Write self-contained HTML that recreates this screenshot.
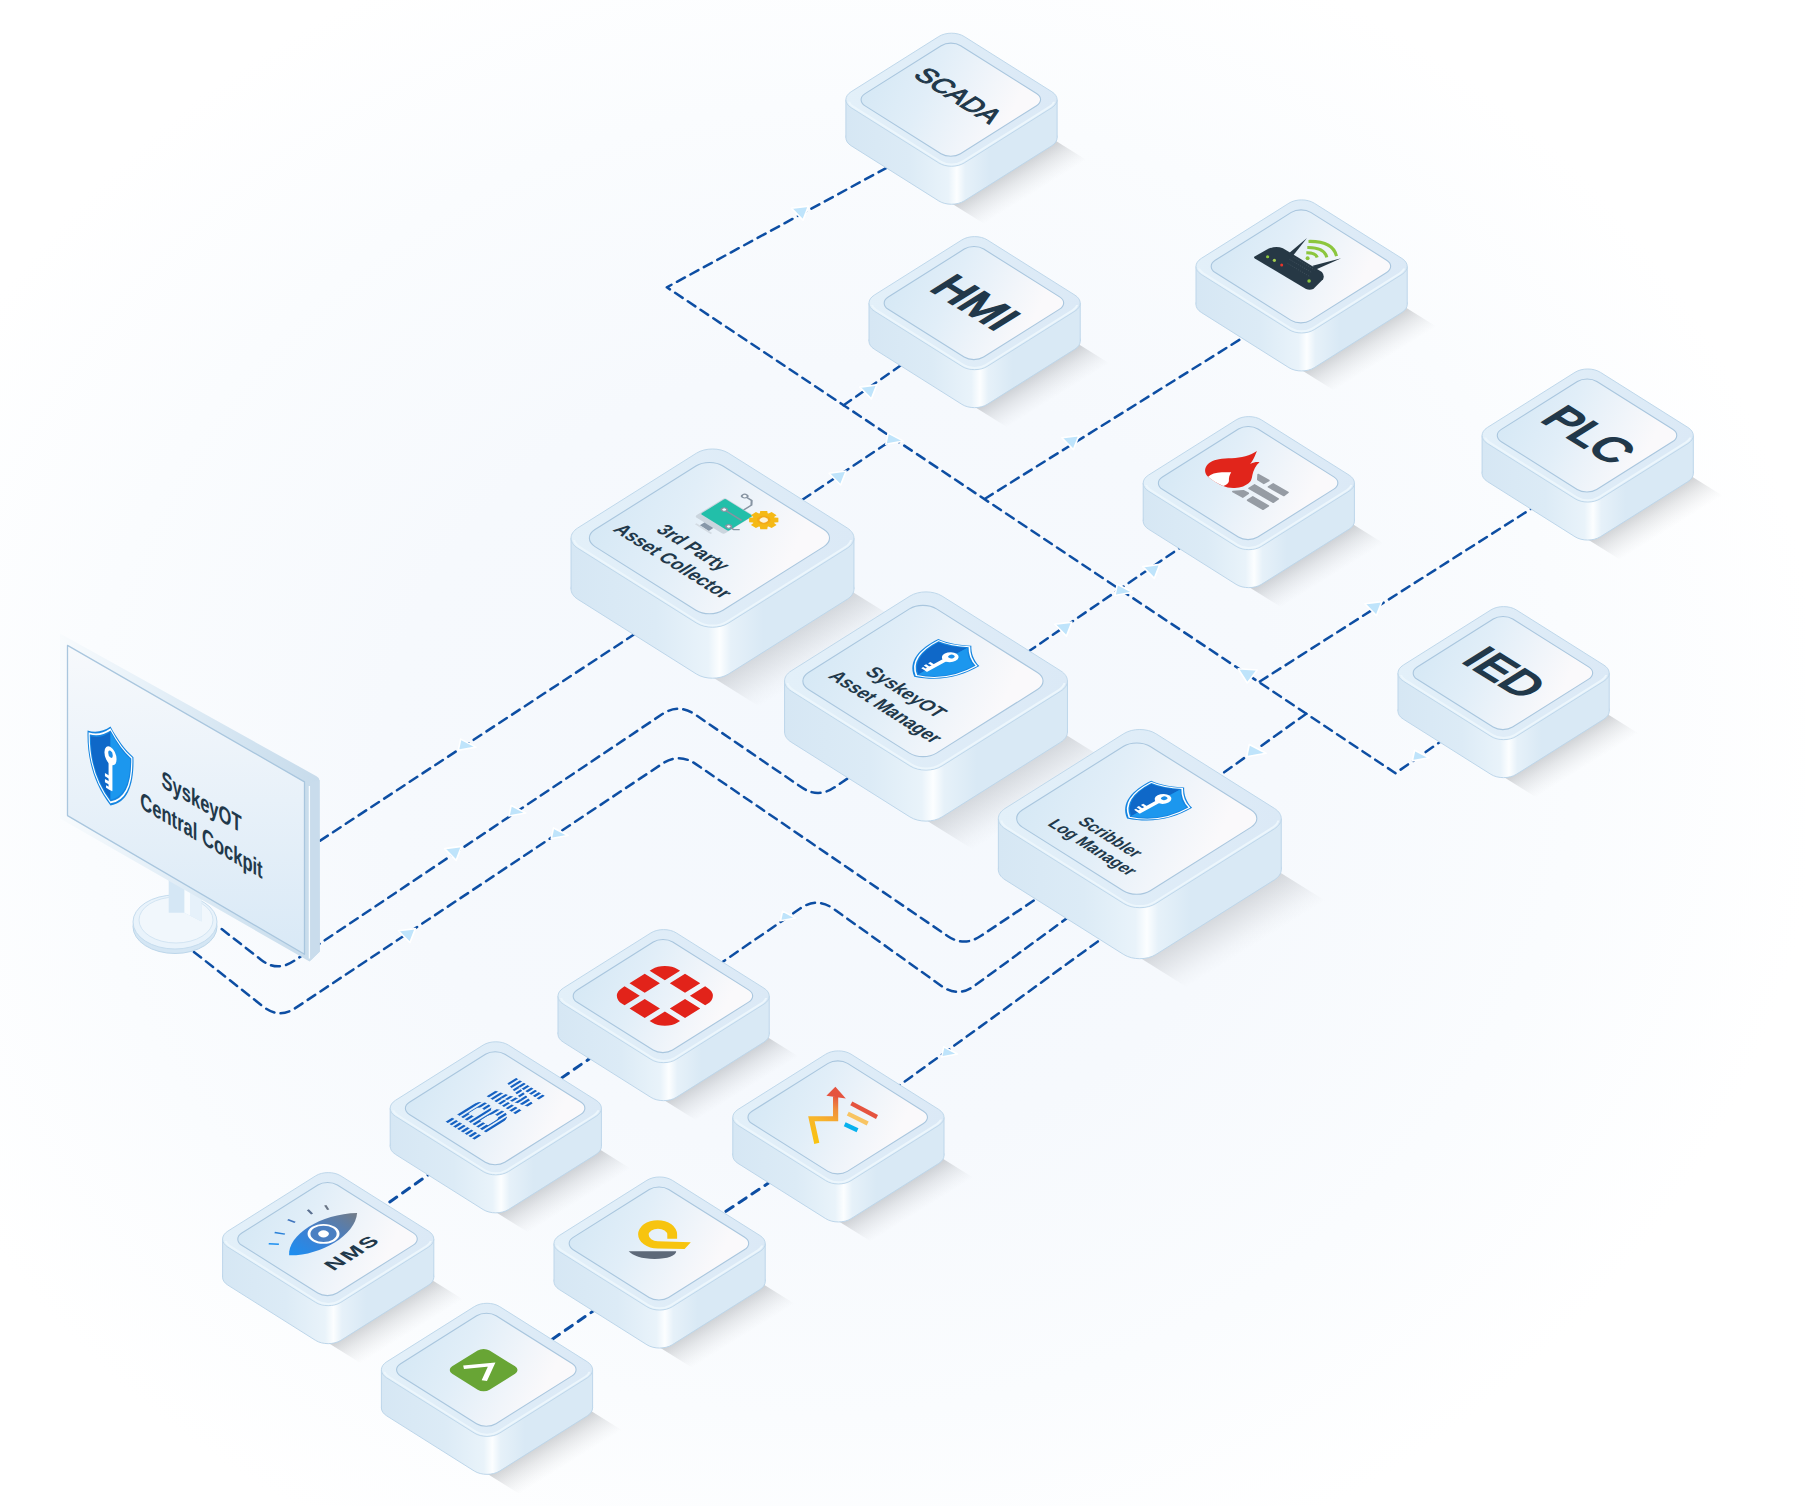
<!DOCTYPE html>
<html lang="en"><head><meta charset="utf-8"><title>SyskeyOT Architecture</title>
<style>html,body{margin:0;padding:0;background:#fff}body{width:1805px;height:1506px;overflow:hidden}svg{display:block}text{font-family:"Liberation Sans",Arial,Helvetica,sans-serif;fill:#21384a}</style></head><body>
<svg width="1805" height="1506" viewBox="0 0 1805 1506">
<defs>
<linearGradient id="bodys" x1="0" y1="0" x2="1" y2="0"><stop offset="0" stop-color="#d6e7f4"/><stop offset="0.30" stop-color="#dcebf6"/><stop offset="0.485" stop-color="#e9f3fa"/><stop offset="0.525" stop-color="#fcfeff"/><stop offset="0.565" stop-color="#e6f1f9"/><stop offset="0.68" stop-color="#d9e9f5"/><stop offset="1" stop-color="#d9e9f5"/></linearGradient>
<linearGradient id="tops" x1="0" y1="0" x2="1" y2="0"><stop offset="0" stop-color="#e3f0f9"/><stop offset="1" stop-color="#dbe9f6"/></linearGradient>
<linearGradient id="ins" x1="0.1" y1="0" x2="0.95" y2="0.25"><stop offset="0" stop-color="#d5e8f5"/><stop offset="0.42" stop-color="#e1eef8"/><stop offset="0.78" stop-color="#f1f5fa"/><stop offset="1" stop-color="#faf9fb"/></linearGradient>
<linearGradient id="shs" x1="0" y1="0" x2="1" y2="0"><stop offset="0" stop-color="#5c6066" stop-opacity="0.26"/><stop offset="0.31" stop-color="#5c6066" stop-opacity="0.26"/><stop offset="0.58" stop-color="#6c7076" stop-opacity="0.14"/><stop offset="0.83" stop-color="#7c8086" stop-opacity="0.05"/><stop offset="1" stop-color="#80848a" stop-opacity="0"/></linearGradient>
<clipPath id="lowers"><rect x="-118.04" y="73.21" width="236.08" height="76.21"/></clipPath>
<linearGradient id="bodyl" x1="0" y1="0" x2="1" y2="0"><stop offset="0" stop-color="#d6e7f4"/><stop offset="0.30" stop-color="#dcebf6"/><stop offset="0.485" stop-color="#e9f3fa"/><stop offset="0.525" stop-color="#fcfeff"/><stop offset="0.565" stop-color="#e6f1f9"/><stop offset="0.68" stop-color="#d9e9f5"/><stop offset="1" stop-color="#d9e9f5"/></linearGradient>
<linearGradient id="topl" x1="0" y1="0" x2="1" y2="0"><stop offset="0" stop-color="#e3f0f9"/><stop offset="1" stop-color="#dbe9f6"/></linearGradient>
<linearGradient id="inl" x1="0.1" y1="0" x2="0.95" y2="0.25"><stop offset="0" stop-color="#d5e8f5"/><stop offset="0.42" stop-color="#e1eef8"/><stop offset="0.78" stop-color="#f1f5fa"/><stop offset="1" stop-color="#faf9fb"/></linearGradient>
<linearGradient id="shl" x1="0" y1="0" x2="1" y2="0"><stop offset="0" stop-color="#5c6066" stop-opacity="0.21"/><stop offset="0.28" stop-color="#5c6066" stop-opacity="0.21"/><stop offset="0.57" stop-color="#6c7076" stop-opacity="0.12"/><stop offset="0.82" stop-color="#7c8086" stop-opacity="0.04"/><stop offset="1" stop-color="#80848a" stop-opacity="0"/></linearGradient>
<clipPath id="lowerl"><rect x="-155.86" y="97.04" width="311.72" height="100.04"/></clipPath>
<radialGradient id="bg" gradientUnits="userSpaceOnUse" cx="0" cy="0" r="1" gradientTransform="matrix(800 505 -590 715 830 760)"><stop offset="0" stop-color="#f4f8fd"/><stop offset="0.45" stop-color="#f6f9fd"/><stop offset="0.75" stop-color="#fafcfe"/><stop offset="1" stop-color="#ffffff"/></radialGradient>
<filter id="blur60" x="-20%" y="-20%" width="140%" height="140%"><feGaussianBlur stdDeviation="60"/></filter>
<linearGradient id="bezel" x1="0" y1="0" x2="1" y2="0"><stop offset="0" stop-color="#f8fbfd"/><stop offset="0.3" stop-color="#e9f2f9"/><stop offset="0.7" stop-color="#d3e4f1"/><stop offset="1" stop-color="#c7dbeb"/></linearGradient>
<linearGradient id="scr" x1="0" y1="0" x2="0" y2="1"><stop offset="0" stop-color="#f7f9fc"/><stop offset="1" stop-color="#d9e9f6"/></linearGradient>
<linearGradient id="shield" x1="0" y1="0" x2="1" y2="0"><stop offset="0" stop-color="#0f6fd0"/><stop offset="0.5" stop-color="#0f6fd0"/><stop offset="0.5" stop-color="#1c96ee"/><stop offset="1" stop-color="#1c96ee"/></linearGradient>
<linearGradient id="eyeg" gradientUnits="userSpaceOnUse" x1="-40" y1="0" x2="40" y2="0"><stop offset="0" stop-color="#1b8ff2"/><stop offset="0.45" stop-color="#3f7fd0"/><stop offset="1" stop-color="#737b86"/></linearGradient>
<linearGradient id="meg" gradientUnits="userSpaceOnUse" x1="-24" y1="26" x2="-3" y2="-22"><stop offset="0" stop-color="#f9c40f"/><stop offset="0.45" stop-color="#f8b52a"/><stop offset="0.75" stop-color="#f08f3c"/><stop offset="1" stop-color="#e5533f"/></linearGradient>
</defs>
<rect width="1805" height="1506" fill="#ffffff"/>
<rect width="1805" height="1506" fill="url(#bg)"/>
<g fill="none" stroke="#0d4ea3" stroke-width="2.5" stroke-linecap="round" stroke-linejoin="round" stroke-dasharray="9.1 6.2">
<path d="M900 160.5 L666.8 287.3 L1395.5 773.2 L1450 735"/>
<path d="M843.6 405.2 L915 355.5"/>
<path d="M790 508 L891.5 440.2"/>
<path d="M985 498.7 L1260 327"/>
<path d="M1015 660.7 L1190 541"/>
<path d="M1259.8 681.5 L1545 500"/>
<path d="M1306.3 713.7 L1205 786"/>
<path d="M320.2 840.6 L650 624"/>
<path d="M221.7 929.1 L261.31 959.92 Q277.1 972.2 293.72 961.07 L661.98 714.33 Q678.6 703.2 695.1 714.5 L801.5 787.3 Q818 798.6 834.53 787.34 L860 770"/>
<path d="M193.9 951.9 L263.29 1006.62 Q279 1019 295.65 1007.91 L662.35 763.69 Q679 752.6 695.52 763.88 L947.48 935.92 Q964 947.2 980.63 936.08 L1050 889.7"/>
<path d="M705 974 L800.52 908.33 Q817 897 833.27 908.63 L941.73 986.17 Q958 997.8 974.15 986 L1085 905"/>
<path d="M880 1099.5 L1115 929"/>
</g>
<g fill="none" stroke="#0d4ea3" stroke-width="3" stroke-linecap="round" stroke-dasharray="8.6 7">
<path d="M548.5 1087 L610 1044.5"/>
<path d="M377 1211 L445 1163"/>
<path d="M713 1220 L785 1172"/>
<path d="M539.5 1348 L610 1299.5"/>
</g>
<g fill="#bfe4fb" stroke="#ffffff" stroke-width="1.6" stroke-linejoin="round">
<polygon points="791.5,208.3 808.5,206.1 803,220.1"/>
<polygon points="859.8,387.1 876.8,384.9 871.3,398.9"/>
<polygon points="829.1,473.2 846.1,471 840.6,485"/>
<polygon points="888.2,433.1 903.5,441.1 885.8,444.3"/>
<polygon points="1061.9,437.8 1078.9,435.6 1073.4,449.6"/>
<polygon points="1054.9,624.3 1071.9,622.1 1066.4,636.1"/>
<polygon points="1142.8,566.6 1159.8,564.4 1154.3,578.4"/>
<polygon points="1117.3,584.3 1132.6,592.3 1114.9,595.5"/>
<polygon points="1364.9,603.8 1381.9,601.6 1376.4,615.6"/>
<polygon points="1238.1,668.8 1257.2,670 1247.3,683"/>
<polygon points="1249.27,744.46 1266.1,753.26 1246.63,756.78"/>
<polygon points="1414.62,750.22 1429.15,757.82 1412.34,760.86"/>
<polygon points="460.7,739.1 476,747.1 458.3,750.3"/>
<polygon points="511.21,805.42 525.75,813.02 508.93,816.06"/>
<polygon points="444.6,848.6 461.6,846.4 456.1,860.4"/>
<polygon points="553.51,827.92 568.05,835.52 551.24,838.56"/>
<polygon points="398.4,930.8 415.4,928.6 409.9,942.6"/>
<polygon points="782.55,911.16 795.55,917.96 780.5,920.68"/>
<polygon points="943.73,1046.84 957.5,1054.04 941.57,1056.92"/>
</g>
<g><ellipse cx="175" cy="926.5" rx="42" ry="27" fill="#d4e6f4" stroke="#bcd6ea"/><ellipse cx="175" cy="922" rx="42" ry="27" fill="#e9f3fb" stroke="#c5dcee"/><ellipse cx="176" cy="920" rx="37" ry="23" fill="#f1f7fc" stroke="#d3e5f3"/><polygon points="168.7,870 201.5,890 201.5,921.5 184.5,912.7 168.7,912.7" fill="#d5e7f5"/><polygon points="184.5,880 201.5,890 201.5,921.5 184.5,912.7" fill="#e6f1fa"/><polygon points="184.5,880 190,883 190,915.5 184.5,912.7" fill="#f7fbfe"/><path d="M60 633.5L316.5 776.2Q319.4 777.6 319.5 780.5L319.8 951.4L309.6 961.6L60 818.5Z" fill="url(#bezel)"/><polygon points="310.4,782.5 319.6,780 319.8,951.4 310.4,960.8" fill="#c9dcec"/><path d="M309.4 786V958.5" stroke="#f8fcff" stroke-width="1.3"/><polygon points="67.5,645.4 304.5,781.9 304.5,954.3 67.5,815.6" fill="url(#scr)" stroke="#a9c6de" stroke-width="1.3" stroke-linejoin="round"/></g>
<text transform="matrix(0.69 0.4 0 1 201.5 810)" font-size="24" font-weight="bold" text-anchor="middle" stroke="#dfeaf4" stroke-width="0.5" paint-order="stroke">SyskeyOT</text>
<text transform="matrix(0.69 0.4 0 1 201.5 843.5)" font-size="24" font-weight="bold" text-anchor="middle" stroke="#dfeaf4" stroke-width="0.5" paint-order="stroke">Central Cockpit</text>
<g transform="matrix(0.74 0.43 0 1.08 110.5 765.5)"><path d="M0 -36C-9 -28 -20 -22 -31 -20C-32 4 -24 25 0 37C24 25 32 4 31 -20C20 -22 9 -28 0 -36Z" fill="#1585e0"/><path d="M0 -31C-8 -24 -17 -18.5 -26.5 -16.5C-27 3 -20 21 0 31.5Z" fill="#0f68c8"/><path d="M0 -31C8 -24 17 -18.5 26.5 -16.5C27 3 20 21 0 31.5Z" fill="#1c97ee"/><path d="M0 -33.5C-8.5 -26 -18.5 -20.3 -28.8 -18.3C-29.4 3.5 -22 23 0 34.2C22 23 29.4 3.5 28.8 -18.3C18.5 -20.3 8.5 -26 0 -33.5Z" fill="none" stroke="#ffffff" stroke-width="1.6"/><g fill="#ffffff"><circle cx="0" cy="-9" r="8.2"/><rect x="-2.6" y="-3" width="5.2" height="26" rx="1"/><rect x="-7.5" y="10" width="6" height="3"/><rect x="-7.5" y="15.5" width="6" height="3"/><rect x="-6" y="20.6" width="4.5" height="2.4"/></g><circle cx="0" cy="-10.5" r="3.1" fill="#1c8de8"/></g>
<g><rect x="118.6" y="8.85" width="49" height="120.4" fill="url(#shs)" transform="matrix(0.85 0.53 -0.85 0.53 951.5 66.51)"/><path d="M964.19 74.51L1051.85 129.73C1058.86 134.15 1058.86 141.31 1051.85 145.72L964.19 200.95C957.18 205.36 945.82 205.36 938.81 200.95L851.15 145.72C844.14 141.31 844.14 134.15 851.15 129.73L938.81 74.51C945.82 70.09 957.18 70.09 964.19 74.51Z" fill="url(#bodys)" stroke="#bdd6ea" stroke-width="1"/><rect x="845.9" y="99.73" width="211.2" height="38" fill="url(#bodys)"/><path d="M845.9 99.73V137.73M1057.1 99.73V137.73" stroke="#bdd6ea" stroke-width="1" fill="none"/><path d="M964.19 36.51L1051.85 91.73C1058.86 96.15 1058.86 103.31 1051.85 107.72L964.19 162.95C957.18 167.36 945.82 167.36 938.81 162.95L851.15 107.72C844.14 103.31 844.14 96.15 851.15 91.73L938.81 36.51C945.82 32.09 957.18 32.09 964.19 36.51Z" fill="url(#tops)" stroke="#bfd8eb" stroke-width="1"/><path d="M11 9.27L98.32 64.28C104.39 68.11 104.39 74.32 98.32 78.14L11 133.15C4.92 136.98 -4.92 136.98 -11 133.15L-98.32 78.14C-104.39 74.32 -104.39 68.11 -98.32 64.28L-11 9.27C-4.92 5.45 4.92 5.45 11 9.27Z" fill="none" stroke="#ecf6fc" stroke-width="2" clip-path="url(#lowers)" transform="translate(951.5 28.51)"/><path d="M960.64 45.68L1036.53 93.49C1041.91 96.88 1041.91 102.37 1036.53 105.75L960.47 153.67C955.09 157.06 946.38 157.06 941.01 153.67L865.11 105.86C859.74 102.47 859.74 96.98 865.11 93.6L941.18 45.68C946.55 42.29 955.26 42.29 960.64 45.68Z" fill="url(#ins)" stroke="#a9c6de" stroke-width="1.1"/></g>
<g transform="translate(951.5 99.73)"><text transform="matrix(0.84 0.53 -0.85 0.53 -0.85 0.53)" font-size="26.5" font-weight="normal" font-style="normal" text-anchor="middle" stroke="#21384a" stroke-width="1.1" stroke-linejoin="miter">SCADA</text></g>
<g><rect x="118.6" y="8.85" width="49" height="120.4" fill="url(#shs)" transform="matrix(0.85 0.53 -0.85 0.53 1301.6 233.21)"/><path d="M1314.29 241.21L1401.95 296.43C1408.96 300.85 1408.96 308.01 1401.95 312.42L1314.29 367.65C1307.28 372.06 1295.92 372.06 1288.91 367.65L1201.25 312.42C1194.24 308.01 1194.24 300.85 1201.25 296.43L1288.91 241.21C1295.92 236.79 1307.28 236.79 1314.29 241.21Z" fill="url(#bodys)" stroke="#bdd6ea" stroke-width="1"/><rect x="1196" y="266.43" width="211.2" height="38" fill="url(#bodys)"/><path d="M1196 266.43V304.43M1407.2 266.43V304.43" stroke="#bdd6ea" stroke-width="1" fill="none"/><path d="M1314.29 203.21L1401.95 258.43C1408.96 262.85 1408.96 270.01 1401.95 274.42L1314.29 329.65C1307.28 334.06 1295.92 334.06 1288.91 329.65L1201.25 274.42C1194.24 270.01 1194.24 262.85 1201.25 258.43L1288.91 203.21C1295.92 198.79 1307.28 198.79 1314.29 203.21Z" fill="url(#tops)" stroke="#bfd8eb" stroke-width="1"/><path d="M11 9.27L98.32 64.28C104.39 68.11 104.39 74.32 98.32 78.14L11 133.15C4.92 136.98 -4.92 136.98 -11 133.15L-98.32 78.14C-104.39 74.32 -104.39 68.11 -98.32 64.28L-11 9.27C-4.92 5.45 4.92 5.45 11 9.27Z" fill="none" stroke="#ecf6fc" stroke-width="2" clip-path="url(#lowers)" transform="translate(1301.6 195.21)"/><path d="M1310.74 212.38L1386.63 260.19C1392.01 263.58 1392.01 269.07 1386.63 272.45L1310.57 320.37C1305.19 323.76 1296.48 323.76 1291.11 320.37L1215.21 272.56C1209.84 269.17 1209.84 263.68 1215.21 260.3L1291.28 212.38C1296.65 208.99 1305.36 208.99 1310.74 212.38Z" fill="url(#ins)" stroke="#a9c6de" stroke-width="1.1"/></g>
<g transform="translate(1301.6 266.43)"><path d="M-47.4 -9.7Q-47.9 -8.6 -46.8 -7.9L4.4 22.6Q8 24.2 11.7 22.6L21.5 12.8Q23.2 9 20.3 5.5L-18.7 -18.3Q-26 -20.6 -33.3 -17.7Z" fill="#263845"/><polygon points="-14.2,-12 -9.8,-9.2 5.4,-28.4" fill="#263845"/><polygon points="11,-0.8 13.8,3.2 39.6,-8.2" fill="#263845"/><g fill="none" stroke="#8cc63e" stroke-width="3.1"><path d="M6.9 -25Q31.2 -25.5 34.9 -10.3"/><path d="M5.7 -18.9Q22.7 -19.2 25.2 -9.1"/><path d="M4.7 -13.6Q14.2 -13.8 15.6 -8.9"/></g><circle cx="6" cy="-8.3" r="2" fill="#8cc63e"/><circle cx="-34" cy="-9.7" r="1.6" fill="#8cc63e"/><circle cx="-27.2" cy="-6.1" r="1.6" fill="#a5cf4c"/><circle cx="-19.9" cy="-1.4" r="1.5" fill="#e8352b"/><circle cx="7.5" cy="14.6" r="1.8" fill="#8cc63e"/><g stroke="#4a5a66" stroke-width="0.7" stroke-dasharray="1 1.4"><path d="M-14 -3L8 10M-12 -7L10 6M-8 -9L13 3.5"/></g></g>
<g><rect x="118.6" y="8.85" width="49" height="120.4" fill="url(#shs)" transform="matrix(0.85 0.53 -0.85 0.53 974.6 269.91)"/><path d="M987.29 277.91L1074.95 333.13C1081.96 337.55 1081.96 344.71 1074.95 349.12L987.29 404.35C980.28 408.76 968.92 408.76 961.91 404.35L874.25 349.12C867.24 344.71 867.24 337.55 874.25 333.13L961.91 277.91C968.92 273.49 980.28 273.49 987.29 277.91Z" fill="url(#bodys)" stroke="#bdd6ea" stroke-width="1"/><rect x="869" y="303.13" width="211.2" height="38" fill="url(#bodys)"/><path d="M869 303.13V341.13M1080.2 303.13V341.13" stroke="#bdd6ea" stroke-width="1" fill="none"/><path d="M987.29 239.91L1074.95 295.13C1081.96 299.55 1081.96 306.71 1074.95 311.12L987.29 366.35C980.28 370.76 968.92 370.76 961.91 366.35L874.25 311.12C867.24 306.71 867.24 299.55 874.25 295.13L961.91 239.91C968.92 235.49 980.28 235.49 987.29 239.91Z" fill="url(#tops)" stroke="#bfd8eb" stroke-width="1"/><path d="M11 9.27L98.32 64.28C104.39 68.11 104.39 74.32 98.32 78.14L11 133.15C4.92 136.98 -4.92 136.98 -11 133.15L-98.32 78.14C-104.39 74.32 -104.39 68.11 -98.32 64.28L-11 9.27C-4.92 5.45 4.92 5.45 11 9.27Z" fill="none" stroke="#ecf6fc" stroke-width="2" clip-path="url(#lowers)" transform="translate(974.6 231.91)"/><path d="M983.74 249.08L1059.63 296.89C1065.01 300.28 1065.01 305.77 1059.63 309.15L983.57 357.07C978.19 360.46 969.48 360.46 964.11 357.07L888.21 309.26C882.84 305.87 882.84 300.38 888.21 297L964.28 249.08C969.65 245.69 978.36 245.69 983.74 249.08Z" fill="url(#ins)" stroke="#a9c6de" stroke-width="1.1"/></g>
<g transform="translate(974.6 303.13)"><text transform="matrix(0.85 0.53 -0.85 0.53 -11.85 7.46)" font-size="44" font-weight="normal" font-style="normal" text-anchor="middle" stroke="#21384a" stroke-width="2.4" stroke-linejoin="miter">HMI</text></g>
<g><rect x="118.6" y="8.85" width="49" height="120.4" fill="url(#shs)" transform="matrix(0.85 0.53 -0.85 0.53 1587.7 402.31)"/><path d="M1600.39 410.31L1688.05 465.53C1695.06 469.95 1695.06 477.11 1688.05 481.52L1600.39 536.75C1593.38 541.16 1582.02 541.16 1575.01 536.75L1487.35 481.52C1480.34 477.11 1480.34 469.95 1487.35 465.53L1575.01 410.31C1582.02 405.89 1593.38 405.89 1600.39 410.31Z" fill="url(#bodys)" stroke="#bdd6ea" stroke-width="1"/><rect x="1482.1" y="435.53" width="211.2" height="38" fill="url(#bodys)"/><path d="M1482.1 435.53V473.53M1693.3 435.53V473.53" stroke="#bdd6ea" stroke-width="1" fill="none"/><path d="M1600.39 372.31L1688.05 427.53C1695.06 431.95 1695.06 439.11 1688.05 443.52L1600.39 498.75C1593.38 503.16 1582.02 503.16 1575.01 498.75L1487.35 443.52C1480.34 439.11 1480.34 431.95 1487.35 427.53L1575.01 372.31C1582.02 367.89 1593.38 367.89 1600.39 372.31Z" fill="url(#tops)" stroke="#bfd8eb" stroke-width="1"/><path d="M11 9.27L98.32 64.28C104.39 68.11 104.39 74.32 98.32 78.14L11 133.15C4.92 136.98 -4.92 136.98 -11 133.15L-98.32 78.14C-104.39 74.32 -104.39 68.11 -98.32 64.28L-11 9.27C-4.92 5.45 4.92 5.45 11 9.27Z" fill="none" stroke="#ecf6fc" stroke-width="2" clip-path="url(#lowers)" transform="translate(1587.7 364.31)"/><path d="M1596.84 381.48L1672.73 429.29C1678.11 432.68 1678.11 438.17 1672.73 441.55L1596.67 489.47C1591.29 492.86 1582.58 492.86 1577.21 489.47L1501.31 441.66C1495.94 438.27 1495.94 432.78 1501.31 429.4L1577.38 381.48C1582.75 378.09 1591.46 378.09 1596.84 381.48Z" fill="url(#ins)" stroke="#a9c6de" stroke-width="1.1"/></g>
<g transform="translate(1587.7 435.53)"><text transform="matrix(0.85 0.53 -0.85 0.53 -11.85 7.46)" font-size="44" font-weight="normal" font-style="normal" text-anchor="middle" stroke="#21384a" stroke-width="2.4" stroke-linejoin="miter">PLC</text></g>
<g><rect x="118.6" y="8.85" width="49" height="120.4" fill="url(#shs)" transform="matrix(0.85 0.53 -0.85 0.53 1248.8 449.91)"/><path d="M1261.49 457.91L1349.15 513.13C1356.16 517.55 1356.16 524.71 1349.15 529.12L1261.49 584.35C1254.48 588.76 1243.12 588.76 1236.11 584.35L1148.45 529.12C1141.44 524.71 1141.44 517.55 1148.45 513.13L1236.11 457.91C1243.12 453.49 1254.48 453.49 1261.49 457.91Z" fill="url(#bodys)" stroke="#bdd6ea" stroke-width="1"/><rect x="1143.2" y="483.13" width="211.2" height="38" fill="url(#bodys)"/><path d="M1143.2 483.13V521.13M1354.4 483.13V521.13" stroke="#bdd6ea" stroke-width="1" fill="none"/><path d="M1261.49 419.91L1349.15 475.13C1356.16 479.55 1356.16 486.71 1349.15 491.12L1261.49 546.35C1254.48 550.76 1243.12 550.76 1236.11 546.35L1148.45 491.12C1141.44 486.71 1141.44 479.55 1148.45 475.13L1236.11 419.91C1243.12 415.49 1254.48 415.49 1261.49 419.91Z" fill="url(#tops)" stroke="#bfd8eb" stroke-width="1"/><path d="M11 9.27L98.32 64.28C104.39 68.11 104.39 74.32 98.32 78.14L11 133.15C4.92 136.98 -4.92 136.98 -11 133.15L-98.32 78.14C-104.39 74.32 -104.39 68.11 -98.32 64.28L-11 9.27C-4.92 5.45 4.92 5.45 11 9.27Z" fill="none" stroke="#ecf6fc" stroke-width="2" clip-path="url(#lowers)" transform="translate(1248.8 411.91)"/><path d="M1257.94 429.08L1333.83 476.89C1339.21 480.28 1339.21 485.77 1333.83 489.15L1257.77 537.07C1252.39 540.46 1243.68 540.46 1238.31 537.07L1162.41 489.26C1157.04 485.87 1157.04 480.38 1162.41 477L1238.48 429.08C1243.85 425.69 1252.56 425.69 1257.94 429.08Z" fill="url(#ins)" stroke="#a9c6de" stroke-width="1.1"/></g>
<g transform="translate(1248.8 483.13)"><path d="M8.1 -32.1C5 -24 3 -21 1.4 -19.2C5 -21 8 -21.5 10.7 -21C7 -18 4.5 -13 3.6 -8.2C3 -4 2 -2 1 -1.1C-3 3 -8 4.5 -14 4.8C-19 5 -22.5 4.2 -25.6 2.9C-32 0 -38 -4 -40.7 -6.4C-43.5 -9 -44.5 -13 -43 -16C-41 -20.5 -36 -23 -30 -24C-22 -25 -12 -24.5 -3.5 -26.8C1 -28 5 -30 8.1 -32.1Z" fill="#e1251b"/><path d="M-40.7 -6.4C-38 -9 -33 -10.5 -27 -10.8C-23 -11 -20 -11 -17.6 -10.8C-19.5 -8 -20 -5 -19.9 -2C-20.5 0.5 -23 2 -25.6 2.9C-32 0 -37.5 -3.5 -40.7 -6.4Z" fill="#ffffff"/><g fill="#969ca4" stroke="#969ca4" stroke-width="1.6" stroke-linejoin="round"><polygon points="9.3,-8.7 20.1,-2.6 15,0.2 9,-3.6"/><polygon points="24.4,0.8 39.2,9.3 35,12.4 19.6,3.7"/><polygon points="5.8,1.7 29.4,15.8 24.4,19.1 0.2,5.3"/><polygon points="-16,8.4 -5.4,7.6 -0.5,10.2 -6,14"/><polygon points="4,13.7 19.6,22.8 14.2,26.1 -1.2,17.1"/></g></g>
<g><rect x="159.3" y="10.01" width="69" height="162.78" fill="url(#shl)" transform="matrix(0.85 0.53 -0.85 0.53 712.5 494.07)"/><path d="M728.58 504.19L847.28 578.98C856.16 584.57 856.16 593.64 847.28 599.23L728.58 674.02C719.7 679.61 705.3 679.61 696.42 674.02L577.72 599.23C568.84 593.64 568.84 584.57 577.72 578.98L696.42 504.19C705.3 498.6 719.7 498.6 728.58 504.19Z" fill="url(#bodyl)" stroke="#bdd6ea" stroke-width="1"/><rect x="571.06" y="538.11" width="282.88" height="51" fill="url(#bodyl)"/><path d="M571.06 538.11V589.11M853.94 538.11V589.11" stroke="#bdd6ea" stroke-width="1" fill="none"/><path d="M728.58 453.19L847.28 527.98C856.16 533.57 856.16 542.64 847.28 548.23L728.58 623.02C719.7 628.61 705.3 628.61 696.42 623.02L577.72 548.23C568.84 542.64 568.84 533.57 577.72 527.98L696.42 453.19C705.3 447.6 719.7 447.6 728.58 453.19Z" fill="url(#topl)" stroke="#bfd8eb" stroke-width="1"/><path d="M14.38 11.41L132.75 85.98C140.7 90.98 140.7 99.1 132.75 104.1L14.38 178.67C6.44 183.68 -6.44 183.68 -14.38 178.67L-132.75 104.1C-140.7 99.1 -140.7 90.98 -132.75 85.98L-14.38 11.41C-6.44 6.4 6.44 6.4 14.38 11.41Z" fill="none" stroke="#ecf6fc" stroke-width="2" clip-path="url(#lowerl)" transform="translate(712.5 443.07)"/><path d="M722.99 465.99L823.93 529.58C831.41 534.29 831.41 541.92 823.93 546.63L722.99 610.23C715.51 614.94 703.39 614.94 695.92 610.23L594.98 546.63C587.5 541.92 587.5 534.29 594.98 529.58L695.92 465.99C703.39 461.28 715.51 461.28 722.99 465.99Z" fill="url(#inl)" stroke="#a9c6de" stroke-width="1.1"/></g>
<g transform="translate(712.5 538.11)"><g transform="matrix(0.85 0.53 -0.85 0.53 0 0)"><rect x="-31" y="-45.5" width="34" height="35.5" rx="2.5" fill="#cbd5de"/><rect x="-29.8" y="-44.6" width="32.4" height="28.7" rx="1.5" fill="#22bfa9"/><rect x="-19.5" y="-10" width="10.5" height="5.4" fill="#8797a8"/><rect x="-23.5" y="-4.6" width="18.5" height="1.8" fill="#d3dbe3"/><g fill="none" stroke="#8794a2" stroke-width="1.7" stroke-linejoin="round"><path d="M-20 -33.8H0.5"/><path d="M-20.7 -58.6H-12.5L-8.2 -54V-45"/><path d="M-1 -20.5H4.5L8 -24"/></g><g fill="#f4f8fb" stroke="#8794a2" stroke-width="1.5"><circle cx="-20" cy="-33.8" r="2.3"/><circle cx="-20.7" cy="-58.6" r="2.4"/><circle cx="-1.5" cy="-20.5" r="2.3"/></g><g transform="translate(13.1 -47.2)"><polygon points="8.94,-3.22 12.15,-2.92 12.15,2.92 8.94,3.22 8.6,4.04 10.66,6.53 6.53,10.66 4.04,8.6 3.22,8.94 2.92,12.15 -2.92,12.15 -3.22,8.94 -4.04,8.6 -6.53,10.66 -10.66,6.53 -8.6,4.04 -8.94,3.22 -12.15,2.92 -12.15,-2.92 -8.94,-3.22 -8.6,-4.04 -10.66,-6.53 -6.53,-10.66 -4.04,-8.6 -3.22,-8.94 -2.92,-12.15 2.92,-12.15 3.22,-8.94 4.04,-8.6 6.53,-10.66 10.66,-6.53 8.6,-4.04" fill="#f5b916"/><circle r="5.62" fill="#f19f1c" opacity="0.55"/><circle r="3.38" fill="#fdf3d8"/></g></g><text transform="matrix(0.75 0.47 -0.85 0.53 -24.88 13.11)" font-size="20" font-weight="bold" font-style="normal" text-anchor="middle" >3rd Party</text><text transform="matrix(0.75 0.47 -0.85 0.53 -45.44 26.6)" font-size="20" font-weight="bold" font-style="normal" text-anchor="middle" >Asset Collector</text></g>
<g><rect x="159.3" y="10.01" width="69" height="162.78" fill="url(#shl)" transform="matrix(0.85 0.53 -0.85 0.53 926 636.97)"/><path d="M942.08 647.09L1060.78 721.88C1069.66 727.47 1069.66 736.54 1060.78 742.13L942.08 816.92C933.2 822.51 918.8 822.51 909.92 816.92L791.22 742.13C782.34 736.54 782.34 727.47 791.22 721.88L909.92 647.09C918.8 641.5 933.2 641.5 942.08 647.09Z" fill="url(#bodyl)" stroke="#bdd6ea" stroke-width="1"/><rect x="784.56" y="681.01" width="282.88" height="51" fill="url(#bodyl)"/><path d="M784.56 681.01V732.01M1067.44 681.01V732.01" stroke="#bdd6ea" stroke-width="1" fill="none"/><path d="M942.08 596.09L1060.78 670.88C1069.66 676.47 1069.66 685.54 1060.78 691.13L942.08 765.92C933.2 771.51 918.8 771.51 909.92 765.92L791.22 691.13C782.34 685.54 782.34 676.47 791.22 670.88L909.92 596.09C918.8 590.5 933.2 590.5 942.08 596.09Z" fill="url(#topl)" stroke="#bfd8eb" stroke-width="1"/><path d="M14.38 11.41L132.75 85.98C140.7 90.98 140.7 99.1 132.75 104.1L14.38 178.67C6.44 183.68 -6.44 183.68 -14.38 178.67L-132.75 104.1C-140.7 99.1 -140.7 90.98 -132.75 85.98L-14.38 11.41C-6.44 6.4 6.44 6.4 14.38 11.41Z" fill="none" stroke="#ecf6fc" stroke-width="2" clip-path="url(#lowerl)" transform="translate(926 585.97)"/><path d="M936.49 608.89L1037.43 672.48C1044.91 677.19 1044.91 684.82 1037.43 689.53L936.49 753.13C929.01 757.84 916.89 757.84 909.42 753.13L808.48 689.53C801 684.82 801 677.19 808.48 672.48L909.42 608.89C916.89 604.18 929.01 604.18 936.49 608.89Z" fill="url(#inl)" stroke="#a9c6de" stroke-width="1.1"/></g>
<g transform="translate(926 681.01)"><g transform="matrix(0.847 0.561 -0.85 0.461 17.2 -20)"><g transform="scale(0.78 0.92)"><path d="M0 -36C-9 -28 -20 -22 -31 -20C-32 4 -24 25 0 37C24 25 32 4 31 -20C20 -22 9 -28 0 -36Z" fill="#1585e0"/><path d="M0 -31C-8 -24 -17 -18.5 -26.5 -16.5C-27 3 -20 21 0 31.5Z" fill="#0f68c8"/><path d="M0 -31C8 -24 17 -18.5 26.5 -16.5C27 3 20 21 0 31.5Z" fill="#1c97ee"/><path d="M0 -33.5C-8.5 -26 -18.5 -20.3 -28.8 -18.3C-29.4 3.5 -22 23 0 34.2C22 23 29.4 3.5 28.8 -18.3C18.5 -20.3 8.5 -26 0 -33.5Z" fill="none" stroke="#ffffff" stroke-width="1.6"/><g fill="#ffffff"><circle cx="0" cy="-9" r="8.2"/><rect x="-2.6" y="-3" width="5.2" height="26" rx="1"/><rect x="-7.5" y="10" width="6" height="3"/><rect x="-7.5" y="15.5" width="6" height="3"/><rect x="-6" y="20.6" width="4.5" height="2.4"/></g><circle cx="0" cy="-10.5" r="3.1" fill="#1c8de8"/></g></g><text transform="matrix(0.75 0.47 -0.85 0.53 -25.64 14.77)" font-size="20" font-weight="bold" font-style="normal" text-anchor="middle" >SyskeyOT</text><text transform="matrix(0.74 0.47 -0.85 0.53 -46.11 29.37)" font-size="20" font-weight="bold" font-style="normal" text-anchor="middle" >Asset Manager</text></g>
<g><rect x="118.6" y="8.85" width="49" height="120.4" fill="url(#shs)" transform="matrix(0.85 0.53 -0.85 0.53 1503.6 639.91)"/><path d="M1516.29 647.91L1603.95 703.13C1610.96 707.55 1610.96 714.71 1603.95 719.12L1516.29 774.35C1509.28 778.76 1497.92 778.76 1490.91 774.35L1403.25 719.12C1396.24 714.71 1396.24 707.55 1403.25 703.13L1490.91 647.91C1497.92 643.49 1509.28 643.49 1516.29 647.91Z" fill="url(#bodys)" stroke="#bdd6ea" stroke-width="1"/><rect x="1398" y="673.13" width="211.2" height="38" fill="url(#bodys)"/><path d="M1398 673.13V711.13M1609.2 673.13V711.13" stroke="#bdd6ea" stroke-width="1" fill="none"/><path d="M1516.29 609.91L1603.95 665.13C1610.96 669.55 1610.96 676.71 1603.95 681.12L1516.29 736.35C1509.28 740.76 1497.92 740.76 1490.91 736.35L1403.25 681.12C1396.24 676.71 1396.24 669.55 1403.25 665.13L1490.91 609.91C1497.92 605.49 1509.28 605.49 1516.29 609.91Z" fill="url(#tops)" stroke="#bfd8eb" stroke-width="1"/><path d="M11 9.27L98.32 64.28C104.39 68.11 104.39 74.32 98.32 78.14L11 133.15C4.92 136.98 -4.92 136.98 -11 133.15L-98.32 78.14C-104.39 74.32 -104.39 68.11 -98.32 64.28L-11 9.27C-4.92 5.45 4.92 5.45 11 9.27Z" fill="none" stroke="#ecf6fc" stroke-width="2" clip-path="url(#lowers)" transform="translate(1503.6 601.91)"/><path d="M1512.74 619.08L1588.63 666.89C1594.01 670.28 1594.01 675.77 1588.63 679.15L1512.57 727.07C1507.19 730.46 1498.48 730.46 1493.11 727.07L1417.21 679.26C1411.84 675.87 1411.84 670.38 1417.21 667L1493.28 619.08C1498.65 615.69 1507.36 615.69 1512.74 619.08Z" fill="url(#ins)" stroke="#a9c6de" stroke-width="1.1"/></g>
<g transform="translate(1503.6 673.13)"><text transform="matrix(0.85 0.53 -0.85 0.53 -11.85 7.46)" font-size="44" font-weight="normal" font-style="normal" text-anchor="middle" stroke="#21384a" stroke-width="2.4" stroke-linejoin="miter">IED</text></g>
<g><rect x="159.3" y="10.01" width="69" height="162.78" fill="url(#shl)" transform="matrix(0.85 0.53 -0.85 0.53 1139.8 774.57)"/><path d="M1155.88 784.69L1274.58 859.48C1283.46 865.07 1283.46 874.14 1274.58 879.73L1155.88 954.52C1147 960.11 1132.6 960.11 1123.72 954.52L1005.02 879.73C996.14 874.14 996.14 865.07 1005.02 859.48L1123.72 784.69C1132.6 779.1 1147 779.1 1155.88 784.69Z" fill="url(#bodyl)" stroke="#bdd6ea" stroke-width="1"/><rect x="998.36" y="818.61" width="282.88" height="51" fill="url(#bodyl)"/><path d="M998.36 818.61V869.61M1281.24 818.61V869.61" stroke="#bdd6ea" stroke-width="1" fill="none"/><path d="M1155.88 733.69L1274.58 808.48C1283.46 814.07 1283.46 823.14 1274.58 828.73L1155.88 903.52C1147 909.11 1132.6 909.11 1123.72 903.52L1005.02 828.73C996.14 823.14 996.14 814.07 1005.02 808.48L1123.72 733.69C1132.6 728.1 1147 728.1 1155.88 733.69Z" fill="url(#topl)" stroke="#bfd8eb" stroke-width="1"/><path d="M14.38 11.41L132.75 85.98C140.7 90.98 140.7 99.1 132.75 104.1L14.38 178.67C6.44 183.68 -6.44 183.68 -14.38 178.67L-132.75 104.1C-140.7 99.1 -140.7 90.98 -132.75 85.98L-14.38 11.41C-6.44 6.4 6.44 6.4 14.38 11.41Z" fill="none" stroke="#ecf6fc" stroke-width="2" clip-path="url(#lowerl)" transform="translate(1139.8 723.57)"/><path d="M1150.29 746.49L1251.23 810.08C1258.71 814.79 1258.71 822.42 1251.23 827.13L1150.29 890.73C1142.81 895.44 1130.69 895.44 1123.22 890.73L1022.28 827.13C1014.8 822.42 1014.8 814.79 1022.28 810.08L1123.22 746.49C1130.69 741.78 1142.81 741.78 1150.29 746.49Z" fill="url(#inl)" stroke="#a9c6de" stroke-width="1.1"/></g>
<g transform="translate(1139.8 818.61)"><g transform="matrix(0.847 0.561 -0.85 0.461 16.2 -15.9)"><g transform="scale(0.78 0.92)"><path d="M0 -36C-9 -28 -20 -22 -31 -20C-32 4 -24 25 0 37C24 25 32 4 31 -20C20 -22 9 -28 0 -36Z" fill="#1585e0"/><path d="M0 -31C-8 -24 -17 -18.5 -26.5 -16.5C-27 3 -20 21 0 31.5Z" fill="#0f68c8"/><path d="M0 -31C8 -24 17 -18.5 26.5 -16.5C27 3 20 21 0 31.5Z" fill="#1c97ee"/><path d="M0 -33.5C-8.5 -26 -18.5 -20.3 -28.8 -18.3C-29.4 3.5 -22 23 0 34.2C22 23 29.4 3.5 28.8 -18.3C18.5 -20.3 8.5 -26 0 -33.5Z" fill="none" stroke="#ffffff" stroke-width="1.6"/><g fill="#ffffff"><circle cx="0" cy="-9" r="8.2"/><rect x="-2.6" y="-3" width="5.2" height="26" rx="1"/><rect x="-7.5" y="10" width="6" height="3"/><rect x="-7.5" y="15.5" width="6" height="3"/><rect x="-6" y="20.6" width="4.5" height="2.4"/></g><circle cx="0" cy="-10.5" r="3.1" fill="#1c8de8"/></g></g><text transform="matrix(0.73 0.46 -0.85 0.53 -34.52 21.75)" font-size="18" font-weight="bold" font-style="normal" text-anchor="middle" >Scribbler</text><text transform="matrix(0.73 0.46 -0.85 0.53 -52.29 31.88)" font-size="18" font-weight="bold" font-style="normal" text-anchor="middle" >Log Manager</text></g>
<g><rect x="118.6" y="8.85" width="49" height="120.4" fill="url(#shs)" transform="matrix(0.85 0.53 -0.85 0.53 663.6 962.91)"/><path d="M676.29 970.91L763.95 1026.13C770.96 1030.55 770.96 1037.71 763.95 1042.12L676.29 1097.35C669.28 1101.76 657.92 1101.76 650.91 1097.35L563.25 1042.12C556.24 1037.71 556.24 1030.55 563.25 1026.13L650.91 970.91C657.92 966.49 669.28 966.49 676.29 970.91Z" fill="url(#bodys)" stroke="#bdd6ea" stroke-width="1"/><rect x="558" y="996.13" width="211.2" height="38" fill="url(#bodys)"/><path d="M558 996.13V1034.13M769.2 996.13V1034.13" stroke="#bdd6ea" stroke-width="1" fill="none"/><path d="M676.29 932.91L763.95 988.13C770.96 992.55 770.96 999.71 763.95 1004.12L676.29 1059.35C669.28 1063.76 657.92 1063.76 650.91 1059.35L563.25 1004.12C556.24 999.71 556.24 992.55 563.25 988.13L650.91 932.91C657.92 928.49 669.28 928.49 676.29 932.91Z" fill="url(#tops)" stroke="#bfd8eb" stroke-width="1"/><path d="M11 9.27L98.32 64.28C104.39 68.11 104.39 74.32 98.32 78.14L11 133.15C4.92 136.98 -4.92 136.98 -11 133.15L-98.32 78.14C-104.39 74.32 -104.39 68.11 -98.32 64.28L-11 9.27C-4.92 5.45 4.92 5.45 11 9.27Z" fill="none" stroke="#ecf6fc" stroke-width="2" clip-path="url(#lowers)" transform="translate(663.6 924.91)"/><path d="M672.74 942.08L748.63 989.89C754.01 993.28 754.01 998.77 748.63 1002.15L672.57 1050.07C667.19 1053.46 658.48 1053.46 653.11 1050.07L577.21 1002.26C571.84 998.87 571.84 993.38 577.21 990L653.28 942.08C658.65 938.69 667.36 938.69 672.74 942.08Z" fill="url(#ins)" stroke="#a9c6de" stroke-width="1.1"/></g>
<g transform="translate(663.6 996.13)"><g transform="matrix(0.85 0.53 -0.85 0.53 1.27 -0.27)"><path d="M-17.65 -32.65H-14.75V-14.75H-32.65V-17.65A15 15 0 0 1 -17.65 -32.65ZM-32.65 -8.95H-14.75V8.95H-32.65ZM-32.65 14.75H-14.75V32.65H-17.65A15 15 0 0 1 -32.65 17.65ZM-8.95 -32.65H8.95V-14.75H-8.95ZM-8.95 14.75H8.95V32.65H-8.95ZM14.75 -32.65H17.65A15 15 0 0 1 32.65 -17.65V-14.75H14.75ZM14.75 -8.95H32.65V8.95H14.75ZM14.75 14.75H32.65V17.65A15 15 0 0 1 17.65 32.65H14.75Z" fill="#e2231a"/></g></g>
<g><rect x="118.6" y="8.85" width="49" height="120.4" fill="url(#shs)" transform="matrix(0.85 0.53 -0.85 0.53 495.8 1075.11)"/><path d="M508.49 1083.11L596.15 1138.33C603.16 1142.75 603.16 1149.91 596.15 1154.32L508.49 1209.55C501.48 1213.96 490.12 1213.96 483.11 1209.55L395.45 1154.32C388.44 1149.91 388.44 1142.75 395.45 1138.33L483.11 1083.11C490.12 1078.69 501.48 1078.69 508.49 1083.11Z" fill="url(#bodys)" stroke="#bdd6ea" stroke-width="1"/><rect x="390.2" y="1108.33" width="211.2" height="38" fill="url(#bodys)"/><path d="M390.2 1108.33V1146.33M601.4 1108.33V1146.33" stroke="#bdd6ea" stroke-width="1" fill="none"/><path d="M508.49 1045.11L596.15 1100.33C603.16 1104.75 603.16 1111.91 596.15 1116.32L508.49 1171.55C501.48 1175.96 490.12 1175.96 483.11 1171.55L395.45 1116.32C388.44 1111.91 388.44 1104.75 395.45 1100.33L483.11 1045.11C490.12 1040.69 501.48 1040.69 508.49 1045.11Z" fill="url(#tops)" stroke="#bfd8eb" stroke-width="1"/><path d="M11 9.27L98.32 64.28C104.39 68.11 104.39 74.32 98.32 78.14L11 133.15C4.92 136.98 -4.92 136.98 -11 133.15L-98.32 78.14C-104.39 74.32 -104.39 68.11 -98.32 64.28L-11 9.27C-4.92 5.45 4.92 5.45 11 9.27Z" fill="none" stroke="#ecf6fc" stroke-width="2" clip-path="url(#lowers)" transform="translate(495.8 1037.11)"/><path d="M504.94 1054.28L580.83 1102.09C586.21 1105.48 586.21 1110.97 580.83 1114.35L504.77 1162.27C499.39 1165.66 490.68 1165.66 485.31 1162.27L409.41 1114.46C404.04 1111.07 404.04 1105.58 409.41 1102.2L485.48 1054.28C490.85 1050.89 499.56 1050.89 504.94 1054.28Z" fill="url(#ins)" stroke="#a9c6de" stroke-width="1.1"/></g>
<g transform="translate(495.8 1108.33)"><mask id="ibmstripes" maskUnits="userSpaceOnUse" x="-60" y="-40" width="120" height="50"><rect x="-60" y="-34" width="120" height="2.5" fill="#fff"/><rect x="-60" y="-29.53" width="120" height="2.5" fill="#fff"/><rect x="-60" y="-25.06" width="120" height="2.5" fill="#fff"/><rect x="-60" y="-20.59" width="120" height="2.5" fill="#fff"/><rect x="-60" y="-16.12" width="120" height="2.5" fill="#fff"/><rect x="-60" y="-11.65" width="120" height="2.5" fill="#fff"/><rect x="-60" y="-7.18" width="120" height="2.5" fill="#fff"/><rect x="-60" y="-2.71" width="120" height="2.5" fill="#fff"/></mask><text transform="matrix(0.82 -0.51 0.85 0.53 14.13 9.43)" font-family="'Liberation Serif','DejaVu Serif',serif" font-size="50" font-weight="bold" text-anchor="middle" style="fill:#1561c2" stroke="#1561c2" stroke-width="0.8" mask="url(#ibmstripes)">IBM</text></g>
<g><rect x="118.6" y="8.85" width="49" height="120.4" fill="url(#shs)" transform="matrix(0.85 0.53 -0.85 0.53 838.4 1084.21)"/><path d="M851.09 1092.21L938.75 1147.43C945.76 1151.85 945.76 1159.01 938.75 1163.42L851.09 1218.65C844.08 1223.06 832.72 1223.06 825.71 1218.65L738.05 1163.42C731.04 1159.01 731.04 1151.85 738.05 1147.43L825.71 1092.21C832.72 1087.79 844.08 1087.79 851.09 1092.21Z" fill="url(#bodys)" stroke="#bdd6ea" stroke-width="1"/><rect x="732.8" y="1117.43" width="211.2" height="38" fill="url(#bodys)"/><path d="M732.8 1117.43V1155.43M944 1117.43V1155.43" stroke="#bdd6ea" stroke-width="1" fill="none"/><path d="M851.09 1054.21L938.75 1109.43C945.76 1113.85 945.76 1121.01 938.75 1125.42L851.09 1180.65C844.08 1185.06 832.72 1185.06 825.71 1180.65L738.05 1125.42C731.04 1121.01 731.04 1113.85 738.05 1109.43L825.71 1054.21C832.72 1049.79 844.08 1049.79 851.09 1054.21Z" fill="url(#tops)" stroke="#bfd8eb" stroke-width="1"/><path d="M11 9.27L98.32 64.28C104.39 68.11 104.39 74.32 98.32 78.14L11 133.15C4.92 136.98 -4.92 136.98 -11 133.15L-98.32 78.14C-104.39 74.32 -104.39 68.11 -98.32 64.28L-11 9.27C-4.92 5.45 4.92 5.45 11 9.27Z" fill="none" stroke="#ecf6fc" stroke-width="2" clip-path="url(#lowers)" transform="translate(838.4 1046.21)"/><path d="M847.54 1063.38L923.43 1111.19C928.81 1114.58 928.81 1120.07 923.43 1123.45L847.37 1171.37C841.99 1174.76 833.28 1174.76 827.91 1171.37L752.01 1123.56C746.64 1120.17 746.64 1114.68 752.01 1111.3L828.08 1063.38C833.45 1059.99 842.16 1059.99 847.54 1063.38Z" fill="url(#ins)" stroke="#a9c6de" stroke-width="1.1"/></g>
<g transform="translate(838.4 1117.43)"><g fill="none" stroke-width="5.2" stroke-linejoin="miter" stroke-linecap="butt"><path d="M-21.6 26L-27 1.3H-2.8V-21" stroke="url(#meg)"/></g><polygon points="-3,-30.6 -12,-21.6 7.4,-19" fill="#e5533f"/><g stroke-width="4.4" stroke-linecap="butt"><path d="M12.9 -14L38.6 -0.4" stroke="#e5533f"/><path d="M9.4 -3.8L29.3 6" stroke="#f8c463"/><path d="M6.3 6.9L19.1 12.8" stroke="#07b1ee"/></g></g>
<g><rect x="118.6" y="8.85" width="49" height="120.4" fill="url(#shs)" transform="matrix(0.85 0.53 -0.85 0.53 328.2 1205.91)"/><path d="M340.89 1213.91L428.55 1269.13C435.56 1273.55 435.56 1280.71 428.55 1285.12L340.89 1340.35C333.88 1344.76 322.52 1344.76 315.51 1340.35L227.85 1285.12C220.84 1280.71 220.84 1273.55 227.85 1269.13L315.51 1213.91C322.52 1209.49 333.88 1209.49 340.89 1213.91Z" fill="url(#bodys)" stroke="#bdd6ea" stroke-width="1"/><rect x="222.6" y="1239.13" width="211.2" height="38" fill="url(#bodys)"/><path d="M222.6 1239.13V1277.13M433.8 1239.13V1277.13" stroke="#bdd6ea" stroke-width="1" fill="none"/><path d="M340.89 1175.91L428.55 1231.13C435.56 1235.55 435.56 1242.71 428.55 1247.12L340.89 1302.35C333.88 1306.76 322.52 1306.76 315.51 1302.35L227.85 1247.12C220.84 1242.71 220.84 1235.55 227.85 1231.13L315.51 1175.91C322.52 1171.49 333.88 1171.49 340.89 1175.91Z" fill="url(#tops)" stroke="#bfd8eb" stroke-width="1"/><path d="M11 9.27L98.32 64.28C104.39 68.11 104.39 74.32 98.32 78.14L11 133.15C4.92 136.98 -4.92 136.98 -11 133.15L-98.32 78.14C-104.39 74.32 -104.39 68.11 -98.32 64.28L-11 9.27C-4.92 5.45 4.92 5.45 11 9.27Z" fill="none" stroke="#ecf6fc" stroke-width="2" clip-path="url(#lowers)" transform="translate(328.2 1167.91)"/><path d="M337.34 1185.08L413.23 1232.89C418.61 1236.28 418.61 1241.77 413.23 1245.15L337.17 1293.07C331.79 1296.46 323.08 1296.46 317.71 1293.07L241.81 1245.26C236.44 1241.87 236.44 1236.38 241.81 1233L317.88 1185.08C323.25 1181.69 331.96 1181.69 337.34 1185.08Z" fill="url(#ins)" stroke="#a9c6de" stroke-width="1.1"/></g>
<g transform="translate(328.2 1239.13)"><g transform="matrix(0.85 -0.53 0.85 0.53 -5.08 -5.01)"><path d="M-40 0C-22 -20 18 -21 40 0C18 20 -22 19 -40 0Z" fill="url(#eyeg)"/><circle cx="0.5" cy="0" r="13.3" fill="#ffffff"/><circle cx="0.5" cy="0" r="10.9" fill="#4a7fc2"/><circle cx="0.5" cy="0" r="4.5" fill="#ffffff"/><g stroke-width="2" stroke-linecap="butt" fill="none"><path d="M-41 -23L-35.5 -16.5" stroke="#1e90f0"/><path d="M-27 -30L-22.5 -22.5" stroke="#2a80d8"/><path d="M-7 -34.5L-5.5 -27.5" stroke="#3f74bd"/><path d="M14 -32L12.5 -25.5" stroke="#5a6f90"/><path d="M28.5 -26L26 -20" stroke="#6a7585"/></g></g><text transform="matrix(1.03 -0.65 0.85 0.53 29.61 16.95)" font-size="19" font-weight="bold" text-anchor="middle" letter-spacing="1.6">NMS</text></g>
<g><rect x="118.6" y="8.85" width="49" height="120.4" fill="url(#shs)" transform="matrix(0.85 0.53 -0.85 0.53 659.6 1210.31)"/><path d="M672.29 1218.31L759.95 1273.53C766.96 1277.95 766.96 1285.11 759.95 1289.52L672.29 1344.75C665.28 1349.16 653.92 1349.16 646.91 1344.75L559.25 1289.52C552.24 1285.11 552.24 1277.95 559.25 1273.53L646.91 1218.31C653.92 1213.89 665.28 1213.89 672.29 1218.31Z" fill="url(#bodys)" stroke="#bdd6ea" stroke-width="1"/><rect x="554" y="1243.53" width="211.2" height="38" fill="url(#bodys)"/><path d="M554 1243.53V1281.53M765.2 1243.53V1281.53" stroke="#bdd6ea" stroke-width="1" fill="none"/><path d="M672.29 1180.31L759.95 1235.53C766.96 1239.95 766.96 1247.11 759.95 1251.52L672.29 1306.75C665.28 1311.16 653.92 1311.16 646.91 1306.75L559.25 1251.52C552.24 1247.11 552.24 1239.95 559.25 1235.53L646.91 1180.31C653.92 1175.89 665.28 1175.89 672.29 1180.31Z" fill="url(#tops)" stroke="#bfd8eb" stroke-width="1"/><path d="M11 9.27L98.32 64.28C104.39 68.11 104.39 74.32 98.32 78.14L11 133.15C4.92 136.98 -4.92 136.98 -11 133.15L-98.32 78.14C-104.39 74.32 -104.39 68.11 -98.32 64.28L-11 9.27C-4.92 5.45 4.92 5.45 11 9.27Z" fill="none" stroke="#ecf6fc" stroke-width="2" clip-path="url(#lowers)" transform="translate(659.6 1172.31)"/><path d="M668.74 1189.48L744.63 1237.29C750.01 1240.68 750.01 1246.17 744.63 1249.55L668.57 1297.47C663.19 1300.86 654.48 1300.86 649.11 1297.47L573.21 1249.66C567.84 1246.27 567.84 1240.78 573.21 1237.4L649.28 1189.48C654.65 1186.09 663.36 1186.09 668.74 1189.48Z" fill="url(#ins)" stroke="#a9c6de" stroke-width="1.1"/></g>
<g transform="translate(659.6 1243.53)"><path d="M17.5 -4.7V-9.2A19.5 14.2 0 0 0 -21.5 -9.2A19.5 14.2 0 0 0 -2 5L25 5.4L31.2 -1.2L-2 -2.3A9.3 6.4 0 0 1 -10.9 -8.7A9.3 6.2 0 0 1 7.7 -8.7V-4.7Z" fill="#f7c40f"/><path d="M-30.9 7.7H16.6C16.6 12 8 15.4 -5 15.4C-18 15.4 -27 12 -30.9 7.7Z" fill="#5d6979"/></g>
<g><rect x="118.6" y="8.85" width="49" height="120.4" fill="url(#shs)" transform="matrix(0.85 0.53 -0.85 0.53 487 1336.61)"/><path d="M499.69 1344.61L587.35 1399.83C594.36 1404.25 594.36 1411.41 587.35 1415.82L499.69 1471.05C492.68 1475.46 481.32 1475.46 474.31 1471.05L386.65 1415.82C379.64 1411.41 379.64 1404.25 386.65 1399.83L474.31 1344.61C481.32 1340.19 492.68 1340.19 499.69 1344.61Z" fill="url(#bodys)" stroke="#bdd6ea" stroke-width="1"/><rect x="381.4" y="1369.83" width="211.2" height="38" fill="url(#bodys)"/><path d="M381.4 1369.83V1407.83M592.6 1369.83V1407.83" stroke="#bdd6ea" stroke-width="1" fill="none"/><path d="M499.69 1306.61L587.35 1361.83C594.36 1366.25 594.36 1373.41 587.35 1377.82L499.69 1433.05C492.68 1437.46 481.32 1437.46 474.31 1433.05L386.65 1377.82C379.64 1373.41 379.64 1366.25 386.65 1361.83L474.31 1306.61C481.32 1302.19 492.68 1302.19 499.69 1306.61Z" fill="url(#tops)" stroke="#bfd8eb" stroke-width="1"/><path d="M11 9.27L98.32 64.28C104.39 68.11 104.39 74.32 98.32 78.14L11 133.15C4.92 136.98 -4.92 136.98 -11 133.15L-98.32 78.14C-104.39 74.32 -104.39 68.11 -98.32 64.28L-11 9.27C-4.92 5.45 4.92 5.45 11 9.27Z" fill="none" stroke="#ecf6fc" stroke-width="2" clip-path="url(#lowers)" transform="translate(487 1298.61)"/><path d="M496.14 1315.78L572.03 1363.59C577.41 1366.98 577.41 1372.47 572.03 1375.85L495.97 1423.77C490.59 1427.16 481.88 1427.16 476.51 1423.77L400.61 1375.96C395.24 1372.57 395.24 1367.08 400.61 1363.7L476.68 1315.78C482.05 1312.39 490.76 1312.39 496.14 1315.78Z" fill="url(#ins)" stroke="#a9c6de" stroke-width="1.1"/></g>
<g transform="translate(487 1369.83)"><g transform="matrix(0.85 0.53 -0.85 0.53 -3.38 0.21)"><rect x="-22" y="-22" width="44" height="44" rx="7" fill="#68a535"/><path d="M-14.4 9.2L-0.4 -9.8L10.4 9.6" fill="none" stroke="#ffffff" stroke-width="4.6" stroke-linejoin="miter" stroke-linecap="butt"/></g></g>
</svg></body></html>
